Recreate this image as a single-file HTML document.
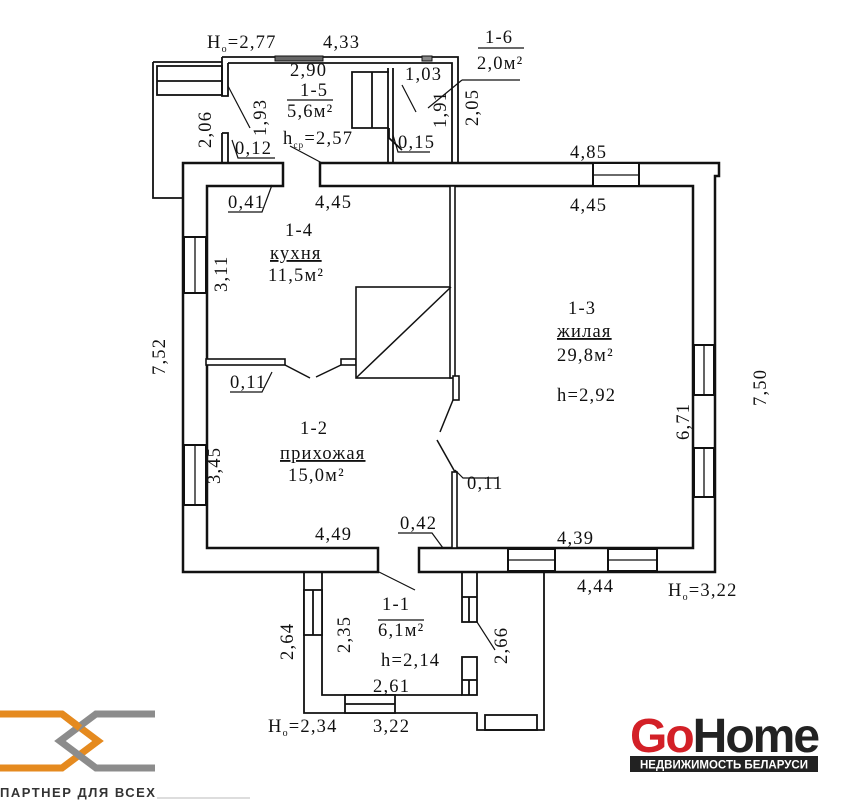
<!DOCTYPE html>
<html><head><meta charset="utf-8"><style>
html,body{margin:0;padding:0;background:#fff;}
svg{display:block;}
text{font-family:"Liberation Serif",serif;font-size:18.5px;letter-spacing:1.2px;fill:#111;}
</style></head><body>
<svg width="865" height="800" viewBox="0 0 865 800" xmlns="http://www.w3.org/2000/svg">
<g fill="#fff" stroke="#111" stroke-width="2.5">
<path d="M183 163 H283 V186 H207 V548 H378 V572 H183 Z"/>
<path d="M320 163 H719 V176 H715 V572 H419 V548 H693 V186 H320 Z"/>
</g>
<g fill="#fff" stroke="#111" stroke-width="2">
<rect x="593" y="163" width="46" height="23"/>
<rect x="184" y="237" width="22" height="56"/>
<rect x="184" y="445" width="22" height="60"/>
<rect x="694" y="345" width="20" height="50"/>
<rect x="694" y="448" width="20" height="49"/>
<rect x="508" y="549" width="47" height="22"/>
<rect x="608" y="549" width="49" height="22"/>
</g>
<g stroke="#111" stroke-width="1.3">
<line x1="593" y1="175" x2="639" y2="175"/>
<line x1="195" y1="237" x2="195" y2="293"/>
<line x1="195" y1="445" x2="195" y2="505"/>
<line x1="704" y1="345" x2="704" y2="395"/>
<line x1="704" y1="448" x2="704" y2="497"/>
<line x1="508" y1="560" x2="555" y2="560"/>
<line x1="608" y1="560" x2="657" y2="560"/>
</g>
<g fill="#fff" stroke="#111" stroke-width="1.6">
<rect x="206" y="359" width="79" height="6"/>
<rect x="341" y="359" width="15" height="6"/>
<rect x="356" y="287" width="95" height="91"/>
<rect x="450" y="186" width="5" height="192"/>
<rect x="453" y="376" width="6" height="24"/>
<rect x="452" y="472" width="5" height="76"/>
</g>
<g stroke="#111" stroke-width="1.5" fill="none">
<line x1="356" y1="378" x2="451" y2="287"/>
<line x1="285" y1="365" x2="310" y2="378"/>
<line x1="316" y1="377" x2="341" y2="365"/>
<line x1="453" y1="400" x2="440" y2="432"/>
<line x1="437" y1="440" x2="455" y2="472"/>
</g>
<g fill="none" stroke="#111" stroke-width="1.8">
<path d="M222 57 H458 V163"/>
<path d="M228 63 H452 V163"/>
<path d="M222 57 V96 H228 V63"/>
<path d="M153 62 H222 M153 62 V198 H183"/>
<rect x="157" y="66" width="65" height="29"/>
<line x1="157" y1="81" x2="222" y2="81"/>
<path d="M222 133 H228 V163 M222 133 V163"/>
<path d="M388 68 V163 M393 68 V163"/>
<path d="M389 72 H352 V128 H389"/>
<line x1="372" y1="72" x2="372" y2="128"/>
<path d="M389 128 V138 L402 150"/>
</g>
<rect x="275" y="56" width="48" height="5" fill="#666" stroke="#111"/>
<rect x="422" y="56" width="10" height="5" fill="#888" stroke="#111"/>
<g fill="none" stroke="#111" stroke-width="1.8">
<path d="M304 572 V713 H468"/>
<path d="M322 572 V695 H462"/>
<rect x="304" y="590" width="18" height="45" fill="#fff"/>
<line x1="313" y1="590" x2="313" y2="635"/>
<rect x="345" y="695" width="50" height="18" fill="#fff"/>
<line x1="345" y1="704" x2="395" y2="704"/>
<rect x="462" y="572" width="15" height="50"/>
<line x1="462" y1="597" x2="477" y2="597"/><line x1="469" y1="597" x2="469" y2="622"/>
<rect x="462" y="657" width="15" height="38"/>
<line x1="462" y1="680" x2="477" y2="680"/><line x1="469" y1="680" x2="469" y2="695"/>
<path d="M468 713 H477 V730 H544 V572"/>
<rect x="485" y="715" width="52" height="15"/>
</g>
<g stroke="#111" stroke-width="1.2" fill="none">
<line x1="228" y1="86" x2="250" y2="128"/>
<path d="M290 146 L322 163"/>
<path d="M232 140 L238 158 H275"/>
<path d="M393 135 L398 152 H430"/>
<line x1="402" y1="85" x2="416" y2="112"/>
<line x1="428" y1="108" x2="462" y2="80"/>
<path d="M462 80 H520"/>
<line x1="478" y1="48" x2="524" y2="48"/>
<line x1="287" y1="100" x2="333" y2="100"/>
<path d="M228 212 H262 L272 185"/>
<path d="M230 392 H262 L272 372"/>
<path d="M455 470 L463 478 H498"/>
<path d="M398 533 H432 L443 548"/>
<line x1="379" y1="572" x2="415" y2="590"/>
<path d="M477 622 L495 650"/>
<line x1="378" y1="620" x2="424" y2="620"/>
</g>
<text x="207" y="48">H<tspan font-size="10" dy="4">o</tspan><tspan dy="-4">=2,77</tspan></text>
<text x="323" y="48">4,33</text>
<text x="290" y="76">2,90</text>
<text x="300" y="96">1-5</text>
<text x="287" y="117">5,6м²</text>
<text x="405" y="80">1,03</text>
<text x="485" y="43">1-6</text>
<text x="477" y="69">2,0м²</text>
<text x="235" y="154">0,12</text>
<text x="283" y="144">h<tspan font-size="9" dy="4">ср</tspan><tspan dy="-4">=2,57</tspan></text>
<text x="398" y="148">0,15</text>
<text x="570" y="158">4,85</text>
<text x="228" y="208">0,41</text>
<text x="315" y="208">4,45</text>
<text x="570" y="211">4,45</text>
<text x="285" y="236">1-4</text>
<text x="270" y="259" text-decoration="underline">кухня</text>
<text x="268" y="281">11,5м²</text>
<text x="568" y="314">1-3</text>
<text x="557" y="337" text-decoration="underline">жилая</text>
<text x="557" y="361">29,8м²</text>
<text x="557" y="401">h=2,92</text>
<text x="230" y="388">0,11</text>
<text x="300" y="434">1-2</text>
<text x="280" y="459" text-decoration="underline">прихожая</text>
<text x="288" y="481">15,0м²</text>
<text x="467" y="489">0,11</text>
<text x="400" y="529">0,42</text>
<text x="315" y="540">4,49</text>
<text x="557" y="544">4,39</text>
<text x="577" y="592">4,44</text>
<text x="668" y="596">H<tspan font-size="10" dy="4">o</tspan><tspan dy="-4">=3,22</tspan></text>
<text x="382" y="610">1-1</text>
<text x="378" y="636">6,1м²</text>
<text x="381" y="666">h=2,14</text>
<text x="373" y="692">2,61</text>
<text x="373" y="732">3,22</text>
<text x="268" y="732">H<tspan font-size="10" dy="4">o</tspan><tspan dy="-4">=2,34</tspan></text>
<text transform="translate(211,148) rotate(-90)">2,06</text>
<text transform="translate(266,136) rotate(-90)">1,93</text>
<text transform="translate(446,128) rotate(-90)">1,91</text>
<text transform="translate(478,126) rotate(-90)">2,05</text>
<text transform="translate(227,292) rotate(-90)">3,11</text>
<text transform="translate(165,375) rotate(-90)">7,52</text>
<text transform="translate(220,484) rotate(-90)">3,45</text>
<text transform="translate(689,440) rotate(-90)">6,71</text>
<text transform="translate(766,406) rotate(-90)">7,50</text>
<text transform="translate(293,660) rotate(-90)">2,64</text>
<text transform="translate(350,653) rotate(-90)">2,35</text>
<text transform="translate(507,664) rotate(-90)">2,66</text>
<g fill="none" stroke-width="7" stroke-linejoin="miter">
<path d="M0 714 H62 L98 741 L62 768 H0" stroke="#e58a1f"/>
<path d="M155 714 H96 L60 741 L96 768 H155" stroke="#8c8c8c"/>
<path d="M62 714 L80 728" stroke="#e58a1f"/>
</g>
<text x="0" y="797" style="font-family:'Liberation Sans',sans-serif;font-size:13px;font-weight:bold;letter-spacing:1.5px;fill:#333">ПАРТНЕР ДЛЯ ВСЕХ</text>
<line x1="157" y1="798" x2="250" y2="798" stroke="#bbb" stroke-width="1"/>
<text x="630" y="752" style="font-family:'Liberation Sans',sans-serif;font-size:48px;font-weight:bold;letter-spacing:-2px;"><tspan fill="#d32027">Go</tspan><tspan fill="#222">Home</tspan></text>
<rect x="630" y="756" width="188" height="16" fill="#222"/>
<text x="724" y="768.5" text-anchor="middle" style="font-family:'Liberation Sans',sans-serif;font-size:11.5px;letter-spacing:0;font-weight:bold;fill:#fff">НЕДВИЖИМОСТЬ БЕЛАРУСИ</text>
</svg>
</body></html>
